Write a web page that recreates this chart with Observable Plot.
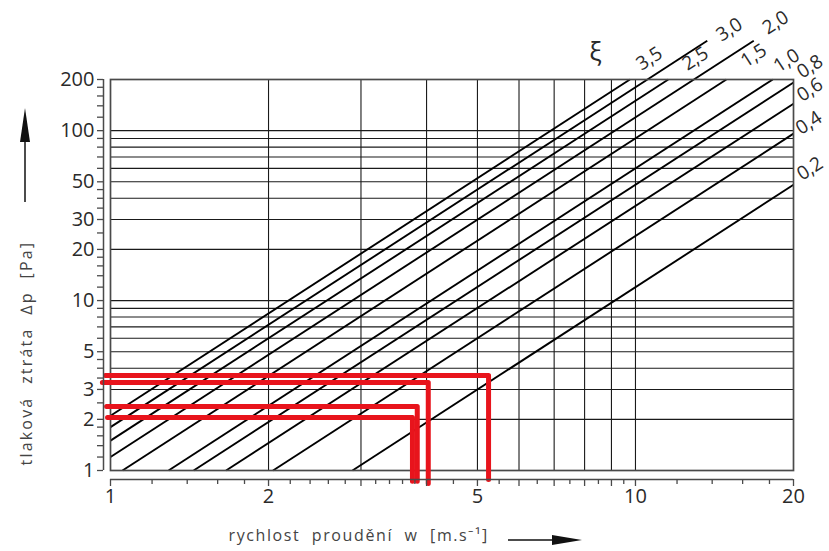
<!DOCTYPE html>
<html>
<head>
<meta charset="utf-8">
<script src="https://cdn.jsdelivr.net/npm/d3@7"></script>
<script src="https://cdn.jsdelivr.net/npm/@observablehq/plot@0.6"></script>
<style>
  html, body { margin: 0; padding: 0; background: #fff; }
  #chart { width: 829px; height: 551px; }
</style>
</head>
<body>
<div id="chart"></div>
<script>
// Loss coefficients ξ and the straight lines (start / end points)
const xi     = ["3,5", "3,0", "2,5", "2,0", "1,5", "1,0", "0,8", "0,6", "0,4", "0,2"];
const startW = [1, 1, 1, 1, 1.054, 1.29, 1.44, 1.66, 2.04, 2.89];
const startP = [2.1, 1.8, 1.5, 1.2, 1, 1, 1, 1, 1, 1];
const endW   = [9.76, 13.7, 11.55, 16.8, 14.9, 18.26, 20, 20, 20, 20];
const endP   = [200, 338, 200, 338, 200, 200, 192, 144, 96, 48];
// label anchor points of the ξ values
const labelW = [10.63, 15.1, 13.0, 18.5, 16.8, 19.4, 21.5, 21.5, 21.4, 21.5];
const labelP = [265, 393, 265, 432, 276, 258, 238, 174, 111, 59.7];
const xiSymbolW = 8.39, xiSymbolP = 288;

// red read-off paths
const redP      = [3.62, 3.29, 2.38, 2.05];
const redW      = [5.25, 4.03, 3.84, 3.76];
const redStartW = [0.978, 0.965, 0.983, 0.987];
const redEndP   = [0.885, 0.839, 0.865, 0.865];

// ticks and grid
const xTicks  = [1,1.2,1.4,1.6,1.8,2,2.2,2.4,2.6,2.8,3,3.2,3.4,3.6,3.8,4,4.5,5,5.5,6,6.5,7,7.5,8,8.5,9,9.5,10,12,14,16,18,20];
const xMajor  = [1,2,3,4,5,6,7,8,9,10,20];
const xLabels = [1, 2, 5, 10, 20];
const yTicks  = [1,1.2,1.4,1.6,1.8,2,2.5,3,3.5,4,4.5,5,6,7,8,9,10,12,14,16,18,20,25,30,35,40,45,50,60,70,80,90,100,120,140,160,180,200];
const yLabels = [1, 2, 3, 5, 7, 10, 20, 30, 50, 70, 100, 200];
const gridX   = [2, 3, 4, 5, 6, 7, 8, 9, 10];
const gridY   = [2, 3, 4, 5, 6, 7, 8, 9, 10, 20, 30, 40, 50, 60, 70, 80, 90, 100];

const xTitle = "rychlost  proudění  w  [m.s⁻¹]";
const yTitle = "tlaková  ztráta  ∆p  [Pa]";

const lines = xi.map((k, i) => ({xi: k, w1: startW[i], p1: startP[i], w2: endW[i], p2: endP[i], lw: labelW[i], lp: labelP[i]}));
const redPts = [];
redP.forEach((p, i) => {
  redPts.push({id: i, w: redStartW[i], p});
  redPts.push({id: i, w: redW[i], p});
  redPts.push({id: i, w: redW[i], p: redEndP[i]});
});

const ink = "#2a2a2a";
const svg = Plot.plot({
  width: 829,
  height: 551,
  marginLeft: 110,
  marginRight: 36,
  marginTop: 79,
  marginBottom: 81,
  x: {type: "log", domain: [1, 20]},
  y: {type: "log", domain: [1, 200]},
  style: {fontFamily: "'Open Sans', sans-serif", background: "#fff", color: ink},
  marks: [
    Plot.ruleY(gridY, {stroke: "#1a1a1a", strokeWidth: 1.1}),
    Plot.ruleX(gridX, {stroke: "#1a1a1a", strokeWidth: 1.1}),
    Plot.link(lines, {x1: "w1", y1: "p1", x2: "w2", y2: "p2", stroke: "#000", strokeWidth: 1.9}),
    Plot.frame({stroke: "#4a4a4a", strokeWidth: 1.7}),
    Plot.line(redPts, {x: "w", y: "p", z: "id", stroke: "#e8141c", strokeWidth: 5, strokeLinejoin: "round", strokeLinecap: "round", curve: "linear"}),
    // y axis (offset left of the frame)
    Plot.ruleX([1], {y1: () => 1, y2: () => 200, dx: -7, stroke: "#4a4a4a", strokeWidth: 1.5}),
    Plot.axisY(yTicks, {anchor: "left", tickSize: 6, dx: -7, tickPadding: 3, stroke: "#4a4a4a", strokeWidth: 1.3,
      tickFormat: d => yLabels.includes(d) ? String(d) : "", fontSize: 20, fill: ink, label: null}),
    // x axis (offset below the frame)
    Plot.ruleY([1], {x1: () => 1, x2: () => 20, dy: 9, stroke: "#4a4a4a", strokeWidth: 1.5}),
    Plot.axisX(xTicks.filter(d => !xMajor.includes(d)), {anchor: "bottom", tickSize: 5, dy: 9, stroke: "#4a4a4a", strokeWidth: 1.3,
      tickFormat: () => "", label: null}),
    Plot.axisX(xMajor, {anchor: "bottom", tickSize: 7, dy: 9, tickPadding: 2, stroke: "#4a4a4a", strokeWidth: 1.3,
      tickFormat: d => xLabels.includes(d) ? String(d) : "", fontSize: 20, fill: ink, label: null}),
    // ξ labels
    Plot.text(lines, {x: "lw", y: "lp", text: "xi", rotate: -33, fontSize: 19, fill: ink}),
    Plot.text(["ξ"], {x: () => xiSymbolW, y: () => xiSymbolP, fontSize: 26, fill: ink}),
    // axis titles
    Plot.text([xTitle], {frameAnchor: "bottom-left", dx: 118, dy: 70, textAnchor: "start", fontSize: 16, fill: "#444"}),
    Plot.text([yTitle], {frameAnchor: "bottom-left", dx: -79, dy: -5, textAnchor: "start", rotate: -90, fontSize: 16, fill: "#444"})
  ]
});

const s = d3.select(svg);
s.selectAll("text").filter(function() { return this.textContent === xTitle; }).attr("letter-spacing", 1.6);
s.selectAll("text").filter(function() { return this.textContent === yTitle; }).attr("letter-spacing", 2.2);
// decorative arrows next to the axis titles
const ga = s.append("g").attr("fill", "#111").attr("stroke", "#111");
ga.append("line").attr("x1", 25).attr("y1", 202).attr("x2", 25).attr("y2", 135).attr("stroke-width", 1.5);
ga.append("path").attr("d", "M20,142 L30,142 L25,108 Z").attr("stroke", "none");
ga.append("line").attr("x1", 508).attr("y1", 540).attr("x2", 560).attr("y2", 540).attr("stroke-width", 1.5);
ga.append("path").attr("d", "M552,535 L552,545 L582,540 Z").attr("stroke", "none");

document.getElementById("chart").appendChild(svg);
</script>
</body>
</html>
